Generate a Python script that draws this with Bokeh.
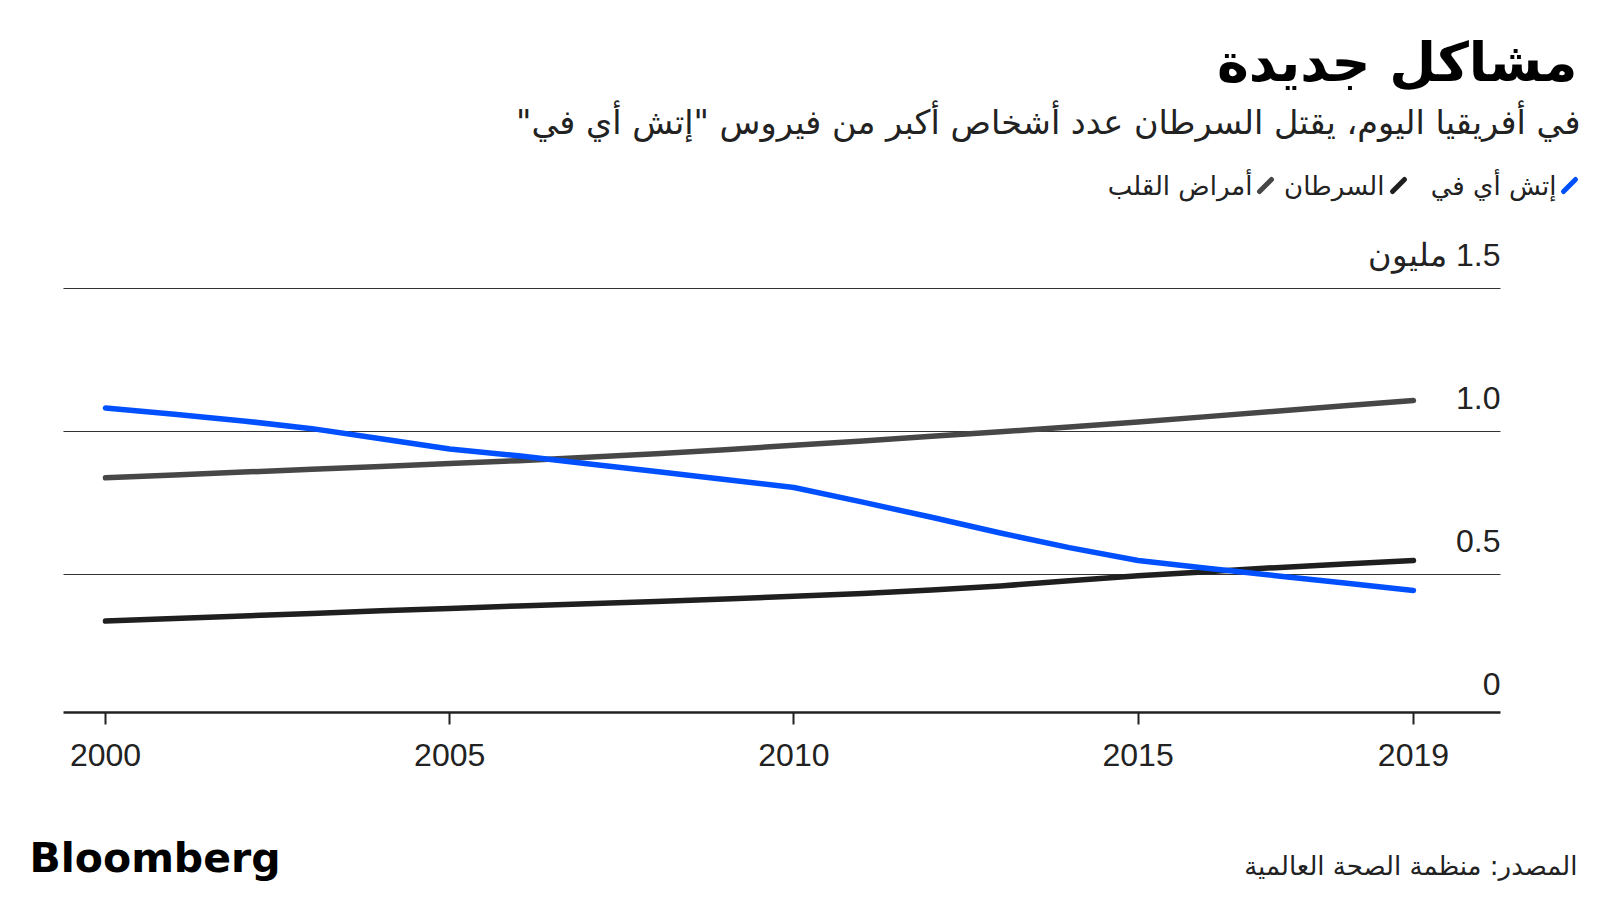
from bokeh.plotting import figure
from bokeh.models import Range1d, FixedTicker, Label, Arrow
from bokeh.layouts import column
from bokeh.embed import file_html
from bokeh.resources import INLINE

# ---- data (million deaths, Africa) ----
years = [2000, 2001, 2002, 2003, 2004, 2005, 2006, 2007, 2008, 2009,
         2010, 2011, 2012, 2013, 2014, 2015, 2016, 2017, 2018, 2019]
hiv = [1.082, 1.060, 1.037, 1.010, 0.975, 0.939, 0.915, 0.887, 0.860, 0.832,
       0.804, 0.753, 0.700, 0.645, 0.594, 0.549, 0.522, 0.496, 0.470, 0.444]
cancer = [0.337, 0.346, 0.355, 0.364, 0.373, 0.381, 0.390, 0.398, 0.406, 0.414,
          0.424, 0.434, 0.446, 0.460, 0.478, 0.496, 0.510, 0.524, 0.537, 0.549]
heart = [0.838, 0.848, 0.858, 0.868, 0.878, 0.888, 0.898, 0.910, 0.922, 0.936,
         0.952, 0.967, 0.983, 0.999, 1.016, 1.033, 1.052, 1.071, 1.090, 1.108]

series_names = ["إتش أي في", "السرطان", "أمراض القلب"]
series_colors = ["#0050ff", "#1f1f1f", "#474747"]

x_ticks = [2000, 2005, 2010, 2015, 2019]
y_tick_values = [0, 0.5, 1.0, 1.5]
y_tick_labels = ["0", "0.5", "1.0", "1.5 مليون"]
grid_values = [0.5, 1.0, 1.5]

title_text = "مشاكل جديدة"
subtitle_text = 'في أفريقيا اليوم، يقتل السرطان عدد أشخاص أكبر من فيروس "إتش أي في"'
source_text = "المصدر: منظمة الصحة العالمية"
brand_text = "Bloomberg"

RLM = "\u200f"


def rtl(s):
    return RLM + s + RLM


# ---- layout geometry (page pixels) ----
W = 1584
MAIN_H = 800
FOOT_H = 84
AXIS_Y = 712                 # x axis line (frame bottom)
PLOT_L, PLOT_R = 63, 1500    # extent of axis and gridlines
X_2000 = 105
PX_PER_YR = 68.84
PX_PER_UNIT = 286.0
X0 = 2000 - X_2000 / PX_PER_YR
X1 = X0 + W / PX_PER_YR
Y0 = 0.0175
Y1 = Y0 + AXIS_Y / PX_PER_UNIT


def dx(px):
    return X0 + px / PX_PER_YR


def dy(py):
    return Y0 + (AXIS_Y - py) / PX_PER_UNIT


p = figure(width=W, height=MAIN_H, output_backend="svg", toolbar_location=None,
           title=None, x_range=Range1d(X0, X1), y_range=Range1d(Y0, Y1),
           y_axis_location=None, min_border=0,
           min_border_bottom=MAIN_H - AXIS_Y)
p.outline_line_color = None
p.background_fill_color = "white"
p.border_fill_color = "white"
p.xgrid.visible = False
p.ygrid.visible = False

ax = p.xaxis[0]
ax.ticker = FixedTicker(ticks=x_ticks)
ax.bounds = (dx(PLOT_L), dx(PLOT_R))
ax.axis_line_color = "#222222"
ax.axis_line_width = 2.5
ax.major_tick_line_color = "#222222"
ax.major_tick_line_width = 2
ax.major_tick_out = 12
ax.major_tick_in = 0
ax.minor_tick_line_color = None
ax.major_label_text_font = "Liberation Sans"
ax.major_label_text_font_size = "32px"
ax.major_label_text_color = "#222222"
ax.major_label_standoff = 19

# gridlines at the grid values, spanning the plot width
p.segment(x0=[dx(PLOT_L)] * len(grid_values), x1=[dx(PLOT_R)] * len(grid_values),
          y0=grid_values, y1=grid_values, line_color="#333333", line_width=1)

# ---- lines ----
for vals, col in [(heart, series_colors[2]), (cancer, series_colors[1]), (hiv, series_colors[0])]:
    p.line(years, vals, line_color=col, line_width=5.5, line_cap="round", line_join="round")

# ---- y labels above gridlines ----
for v, t in zip(y_tick_values, y_tick_labels):
    p.add_layout(Label(x=dx(PLOT_R), y=v, text=rtl(t), text_align="right", text_baseline="middle",
                       y_offset=34, text_font="Liberation Sans", text_font_size="32px",
                       text_color="#222222"))

# ---- title / subtitle ----
p.add_layout(Label(x=dx(1577), y=dy(62), text=rtl(title_text), text_align="right",
                   text_baseline="middle", text_font="DejaVu Sans",
                   text_font_style="bold", text_font_size="54px", text_color="#000000"))
p.add_layout(Label(x=dx(1580), y=dy(122), text=rtl(subtitle_text), text_align="right",
                   text_baseline="middle", text_font="DejaVu Sans",
                   text_font_size="33.5px", text_color="#222222"))

# ---- legend (right-to-left) ----
LEG_Y = 185
leg_text_right = [1556, 1384, 1252]
leg_icon_left = [1563, 1392, 1259]
for name, col, tr, il in zip(series_names, series_colors, leg_text_right, leg_icon_left):
    p.add_layout(Arrow(x_start=dx(il), y_start=dy(LEG_Y + 6), x_end=dx(il + 12), y_end=dy(LEG_Y - 6),
                       start=None, end=None, line_color=col, line_width=5, line_cap="round"))
    p.add_layout(Label(x=dx(tr), y=dy(LEG_Y), text=rtl(name), text_align="right",
                       text_baseline="middle", text_font="DejaVu Sans",
                       text_font_size="26px", text_color="#222222"))

# ---- footer (its own canvas, page-pixel coordinates) ----
f = figure(width=W, height=FOOT_H, output_backend="svg", toolbar_location=None,
           title=None, x_range=Range1d(0, W), y_range=Range1d(MAIN_H + FOOT_H, MAIN_H),
           x_axis_location=None, y_axis_location=None, min_border=0)
f.outline_line_color = None
f.xgrid.visible = False
f.ygrid.visible = False
f.add_layout(Label(x=29, y=857, text=brand_text, text_align="left",
                   text_baseline="middle", text_font="DejaVu Sans",
                   text_font_style="bold", text_font_size="41px", text_color="#000000"))
f.add_layout(Label(x=1577, y=865, text=rtl(source_text), text_align="right",
                   text_baseline="middle", text_font="DejaVu Sans",
                   text_font_size="26px", text_color="#222222"))

layout = column(p, f, spacing=0)
open("out.html", "w").write(file_html(layout, INLINE))
